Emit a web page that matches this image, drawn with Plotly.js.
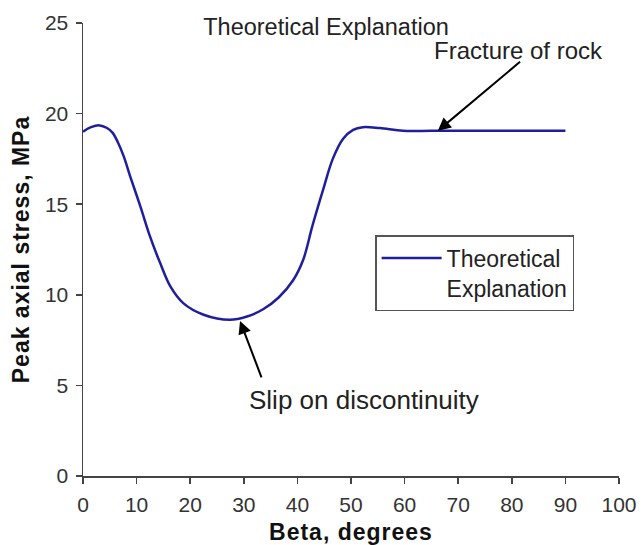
<!DOCTYPE html>
<html>
<head>
<meta charset="utf-8">
<script src="https://cdn.plot.ly/plotly-3.0.1.min.js"></script>
<style>
  html, body { margin: 0; padding: 0; background: #ffffff; }
  #chart { width: 644px; height: 545px; }
  /* slightly wider tracking for the bold axis titles */
  #chart .xtitle, #chart .ytitle { letter-spacing: 1px; }
</style>
</head>
<body>
<div id="chart"></div>
<script>
// Peak axial stress vs. discontinuity angle (theoretical curve)
const beta = [0, 1.5, 3.1, 4.4, 5.5, 6.5, 7.6, 8.8, 10.7, 12.5, 14.4, 16.3, 18.7, 22.5, 27.4,
              30.6, 33.6, 36.5, 39.2, 41.1, 42.8, 44.8, 46.6, 48.5, 50.4, 52.2, 55.4,
              59.7, 65, 70, 80, 90];
const stress = [19.0, 19.25, 19.35, 19.22, 18.95, 18.42, 17.64, 16.54, 14.88, 13.22, 11.75, 10.46, 9.54, 8.9, 8.62,
                8.8, 9.2, 9.85, 10.8, 11.95, 13.8, 15.8, 17.5, 18.6, 19.1, 19.25, 19.2,
                19.05, 19.05, 19.05, 19.05, 19.05];

const seriesName = 'Theoretical<br>Explanation';
const chartTitle = 'Theoretical Explanation';
const xTitle = 'Beta, degrees';
const yTitle = 'Peak axial stress, MPa';
const xTicks = [0, 10, 20, 30, 40, 50, 60, 70, 80, 90, 100];
const yTicks = [0, 5, 10, 15, 20, 25];

// Callouts: label, arrow head (data units), label position (data units)
const fractureNote = { text: 'Fracture of rock', headX: 66.2, headY: 19.05, labelX: 81.2, labelY: 23.5 };
const slipNote = { text: 'Slip on discontinuity', headX: 29.3, headY: 8.56, labelX: 52.4, labelY: 4.2 };

const FONT = '"Liberation Sans", Arial, Helvetica, sans-serif';
const AXIS_COLOR = '#444444';

const trace = {
  x: beta,
  y: stress,
  type: 'scatter',
  mode: 'lines',
  name: seriesName,
  line: { color: '#1f1f9e', width: 2.5, shape: 'spline', smoothing: 1 }
};

const axisCommon = {
  showgrid: false,
  zeroline: false,
  showline: true,
  linecolor: AXIS_COLOR,
  linewidth: 1.5,
  ticks: 'outside',
  ticklen: 6,
  tickwidth: 1.5,
  tickcolor: AXIS_COLOR,
  ticklabelstandoff: 3,
  tickfont: { family: FONT, size: 21, color: '#333333' },
  mirror: false
};

const layout = {
  width: 644,
  height: 545,
  margin: { l: 83, r: 25, t: 23, b: 69 },
  paper_bgcolor: '#ffffff',
  plot_bgcolor: '#ffffff',
  font: { family: FONT, color: '#222222' },
  title: {
    text: chartTitle,
    font: { family: FONT, size: 23.5, color: '#222222' },
    xref: 'container', x: 326 / 644, xanchor: 'center',
    yref: 'container', y: 1 - 27 / 545, yanchor: 'middle'
  },
  xaxis: Object.assign({}, axisCommon, {
    range: [0, 100],
    tickvals: xTicks,
    ticktext: xTicks.map(String),
    title: { text: '<b>' + xTitle + '</b>', font: { family: FONT, size: 23, color: '#111111' }, standoff: 11 }
  }),
  yaxis: Object.assign({}, axisCommon, {
    range: [0, 25],
    tickvals: yTicks,
    ticktext: yTicks.map(String),
    title: { text: '<b>' + yTitle + '</b>', font: { family: FONT, size: 23, color: '#111111' }, standoff: 9 }
  }),
  showlegend: true,
  legend: {
    x: 0.545, xanchor: 'left',
    y: 0.532, yanchor: 'top',
    bgcolor: '#ffffff',
    bordercolor: '#555555',
    borderwidth: 1.5,
    valign: 'top',
    itemwidth: 60,
    font: { family: FONT, size: 23, color: '#222222' }
  },
  annotations: [
    {
      x: fractureNote.headX, y: fractureNote.headY, xref: 'x', yref: 'y',
      text: '', showarrow: true, arrowhead: 2, arrowsize: 1.3, arrowwidth: 2, arrowcolor: '#000000',
      ax: 83.7, ay: -70.3, standoff: 0
    },
    {
      x: fractureNote.labelX, y: fractureNote.labelY, xref: 'x', yref: 'y',
      text: fractureNote.text, showarrow: false,
      font: { family: FONT, size: 24, color: '#222222' }
    },
    {
      x: slipNote.headX, y: slipNote.headY, xref: 'x', yref: 'y',
      text: '', showarrow: true, arrowhead: 2, arrowsize: 1.3, arrowwidth: 2, arrowcolor: '#000000',
      ax: 22, ay: 58, standoff: 0
    },
    {
      x: slipNote.labelX, y: slipNote.labelY, xref: 'x', yref: 'y',
      text: slipNote.text, showarrow: false,
      font: { family: FONT, size: 26, color: '#222222' }
    }
  ]
};

Plotly.newPlot('chart', [trace], layout, { staticPlot: true, displayModeBar: false });
</script>
</body>
</html>
